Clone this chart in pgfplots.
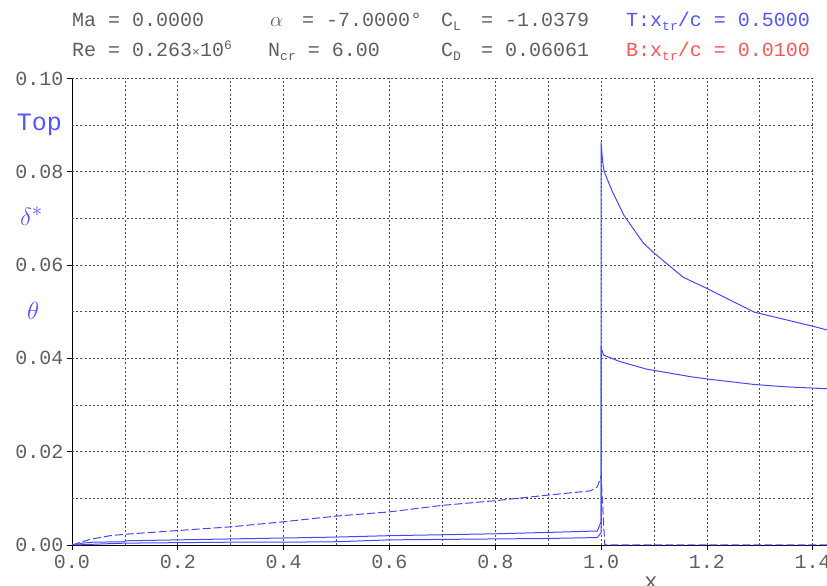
\documentclass[border=0pt]{standalone}
\usepackage{pgfplots}
\pgfplotsset{compat=1.18}
\usepackage{pgfplotstable}
\usepackage{fontspec}
\setmainfont{Liberation Sans}
\setmonofont{Liberation Mono}
\definecolor{cblue}{RGB}{70,70,255}
\definecolor{tblue}{RGB}{85,85,255}
\definecolor{tred}{RGB}{255,85,85}
\definecolor{tgray}{RGB}{95,95,95}
\newcommand\hfont{\fontsize{20}{20}\selectfont\ttfamily}
\newcommand\sfont{\fontsize{13}{13}\selectfont\ttfamily}

\pgfplotstableread{
x y
0.000 0.0000
0.011 0.0004
0.034 0.0012
0.072 0.0020
0.100 0.0023
0.200 0.0031
0.300 0.0039
0.393 0.0049
0.500 0.0062
0.600 0.0071
0.700 0.0085
0.800 0.0095
0.900 0.0107
0.980 0.0116
0.993 0.0125
1.000 0.0148
1.007 0.0000
1.427 0.0000
}\dashedcurve

\pgfplotstableread{
x y
0.005 0.0000
0.020 0.0004
0.040 0.0006
0.100 0.0007
0.101 0.0009
0.200 0.0011
0.300 0.0013
0.400 0.0015
0.500 0.0017
0.600 0.0020
0.700 0.0022
0.800 0.0024
0.900 0.0027
0.993 0.0030
1.000 0.0050
1.000 0.0864
1.003 0.0820
1.006 0.0800
1.020 0.0761
1.043 0.0707
1.080 0.0647
1.100 0.0626
1.155 0.0574
1.200 0.0550
1.290 0.0499
1.400 0.0469
1.427 0.0461
}\dstarcurve

\pgfplotstableread{
x y
0.005 0.0000
0.050 0.0002
0.100 0.0004
0.200 0.0005
0.300 0.0006
0.400 0.0006
0.500 0.0007
0.550 0.0009
0.600 0.0011
0.700 0.0012
0.800 0.0013
0.900 0.0014
0.993 0.0016
1.000 0.0026
1.000 0.0422
1.005 0.0407
1.036 0.0393
1.086 0.0377
1.168 0.0361
1.200 0.0356
1.290 0.0344
1.350 0.0339
1.427 0.0335
}\thetacurve

\begin{document}
\begin{tikzpicture}[x=1pt,y=1pt]
\useasboundingbox (0,0) rectangle (827,586);
\begin{axis}[
  at={(72pt,41pt)}, anchor=south west,
  scale only axis, width=755pt, height=466.5pt,
  xmin=0, xmax=1.427, ymin=0, ymax=0.1,
  clip=false,
  axis x line=bottom, axis y line=left,
  axis line style={-, black, line width=0.8pt},
  tick align=outside, major tick length=5pt,
  tick style={black, line width=0.8pt},
  xtick={0,0.2,0.4,0.6,0.8,1.0,1.2,1.4},
  ytick={0,0.02,0.04,0.06,0.08,0.1},
  minor tick num=0,
  scaled y ticks=false, scaled x ticks=false,
  /pgf/number format/assume math mode=true,
  tick label style={font=\hfont, text=tgray},
  x tick label style={/pgf/number format/fixed, /pgf/number format/fixed zerofill, /pgf/number format/precision=1, yshift=-2pt},
  y tick label style={/pgf/number format/fixed, /pgf/number format/fixed zerofill, /pgf/number format/precision=2},
]
\pgfplotsinvokeforeach{0.1,0.2,0.3,0.4,0.5,0.6,0.7,0.8,0.9,1.0,1.1,1.2,1.3,1.4}{
  \draw[black!70, line width=0.7pt, dash pattern=on 2pt off 2.2pt] (axis cs:#1,0) -- (axis cs:#1,0.1);
}
\pgfplotsinvokeforeach{0.01,0.02,0.03,0.04,0.05,0.06,0.07,0.08,0.09,0.1}{
  \draw[black!70, line width=0.7pt, dash pattern=on 2pt off 2.2pt] (axis cs:0,#1) -- (axis cs:1.4,#1);
}
\addplot[cblue, line width=1pt, dash pattern=on 8pt off 3pt] table {\dashedcurve};
\addplot[cblue, line width=1pt] table {\dstarcurve};
\addplot[cblue, line width=1pt] table {\thetacurve};
\end{axis}
% header
\begin{scope}[every node/.style={anchor=base west, inner sep=0pt, text=tgray, font=\hfont}]
\node at (72,559) {Ma = 0.0000};
\node at (270,559) {\(\alpha\)};
\node at (302,559) {= -7.0000°};
\node at (441,559) {C\raisebox{-0.35ex}{\sfont L}};
\node at (481,559) {= -1.0379};
\node[text=tblue] at (626,559) {T:x\raisebox{-0.35ex}{\sfont tr}/c = 0.5000};
\node at (72,529) {Re = 0.263{\sfont ×}10\raisebox{0.7ex}{\sfont 6}};
\node at (268,529) {N\raisebox{-0.35ex}{\sfont cr} = 6.00};
\node at (441,529) {C\raisebox{-0.35ex}{\sfont D}};
\node at (481,529) {= 0.06061};
\node[text=tred] at (626,529) {B:x\raisebox{-0.35ex}{\sfont tr}/c = 0.0100};
\end{scope}
% left labels
\node[anchor=base east, inner sep=0pt, text=tblue, font=\fontsize{25}{25}\selectfont\ttfamily] at (62,455) {Top};
\node[anchor=base west, inner sep=0pt, text=tblue, font=\fontsize{32}{32}\selectfont] at (20,360) {\(\delta^{*}\)};
\node[anchor=base west, inner sep=0pt, text=tblue, font=\fontsize{32}{32}\selectfont] at (27,266) {\(\theta\)};
\node[anchor=base, inner sep=0pt, text=tgray, font=\fontsize{22}{22}\selectfont\ttfamily] at (651,-3) {x};
\end{tikzpicture}
\end{document}
